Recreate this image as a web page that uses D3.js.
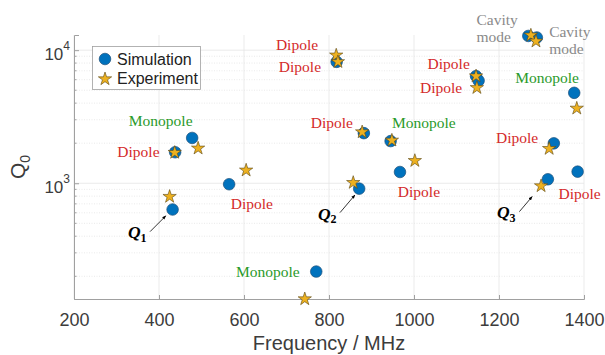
<!DOCTYPE html>
<html><head><meta charset="utf-8">
<script src="https://cdn.jsdelivr.net/npm/d3@7"></script>
<style>body{margin:0;background:#fff}svg{display:block}</style>
</head><body><svg id="c" width="605" height="355"></svg>
<script>
// ---- data ----
const simFreq = [432, 478, 438, 565, 871, 770, 818, 882, 945, 967, 1146, 1152, 1269, 1289, 1377, 1329, 1385, 1315];
const simQ    = [635, 2190, 1710, 983, 911, 217, 8170, 2380, 2075, 1215, 6380, 5900, 12790, 12450, 4780, 1995, 1222, 1071];
const expFreq = [425, 437, 492, 605, 743, 817, 821, 878, 948, 1002, 857, 1146, 1148, 1275, 1287, 1383, 1318, 1299];
const expQ    = [794, 1700, 1832, 1252, 135, 9160, 8170, 2426, 2101, 1477, 1010, 6385, 5216, 12940, 11670, 3654, 1819, 954];
const xTicks = [200, 400, 600, 800, 1000, 1200, 1400];
const yMajor = [1000, 10000];
const labelText = ["Monopole","Dipole","Dipole","Monopole","Dipole","Dipole","Dipole","Monopole","Dipole","Dipole","Dipole","Monopole","Dipole","Dipole","Cavity|mode","Cavity|mode"];
const labelType = ["m","d","d","m","d","d","d","m","d","d","d","m","d","d","c","c"];
const labelFreq = [329, 302, 569, 581, 675, 682, 757, 948, 962, 1032, 1014, 1238, 1193, 1340, 1147, 1318];
const labelQ    = [2692, 1567, 641, 199, 10000, 6804, 2612, 2612, 783, 7190, 4732, 5623, 2017, 759, 15400, 12600];
const qNames = ["1","2","3"];
const qTextFreq = [327, 774, 1195];
const qTextQ = [387, 531, 546];
const qArrowFrom = [[379, 433],[826, 602],[1248, 612]];
const qArrowTo   = [[416, 569],[861, 816],[1278, 794]];

// ---- chart ----
const svg = d3.select("#c");
const L = 74, R = 584, T = 35, B = 299;
const x = d3.scaleLinear().domain([200, 1400]).range([L, R]);
const y = d3.scaleLog().domain([135, 13000]).range([B, T]);

const minor = [];
[100, 1000].forEach(b => { for (let k = 2; k <= 9; k++) { const v = b * k; if (v > 135 && v < 13000) minor.push(v); } });

const grid = svg.append("g");
grid.selectAll(".mg").data(minor).join("line")
  .attr("x1", L).attr("x2", R).attr("y1", d => y(d)).attr("y2", d => y(d))
  .attr("stroke", "#dcdcdc").attr("stroke-width", 0.6).attr("stroke-dasharray", "1,1.5");
grid.selectAll(".Mg").data(yMajor).join("line")
  .attr("x1", L).attr("x2", R).attr("y1", d => y(d)).attr("y2", d => y(d))
  .attr("stroke", "#e6e6e6").attr("stroke-width", 0.8);
grid.selectAll(".xg").data(xTicks).join("line")
  .attr("x1", d => x(d)).attr("x2", d => x(d)).attr("y1", T).attr("y2", B)
  .attr("stroke", "#e6e6e6").attr("stroke-width", 0.8);

// axes
const axCol = "#a0a0a0", txtCol = "#3c3c3c";
const xAxis = svg.append("g").attr("transform", `translate(0,${B})`)
  .call(d3.axisBottom(x).tickValues(xTicks).tickSize(-4).tickPadding(14).tickFormat(d3.format("d")));
xAxis.select(".domain").attr("stroke", axCol);
xAxis.selectAll(".tick line").attr("stroke", axCol);
xAxis.selectAll("text").attr("fill", txtCol).style("font-family", "Arial, 'Liberation Sans', sans-serif").style("font-size", "18px");

const yAxis = svg.append("g").attr("transform", `translate(${L},0)`)
  .call(d3.axisLeft(y).tickValues(yMajor).tickSize(-5).tickFormat(""));
yAxis.select(".domain").attr("stroke", axCol);
yAxis.selectAll(".tick line").attr("stroke", axCol);
svg.append("g").selectAll("line").data(minor).join("line")
  .attr("x1", L).attr("x2", L + 2.5).attr("y1", d => y(d)).attr("y2", d => y(d)).attr("stroke", axCol);
yMajor.forEach(v => {
  const t = svg.append("text").attr("x", L - 4).attr("y", y(v) + 10).attr("text-anchor", "end")
    .attr("fill", txtCol).style("font-family", "Arial, 'Liberation Sans', sans-serif").style("font-size", "17px");
  t.append("tspan").text("10");
  t.append("tspan").attr("dy", -10).style("font-size", "12px").text(String(Math.round(Math.log10(v))));
});

// axis labels
svg.append("text").attr("x", (L + R) / 2).attr("y", 350).attr("text-anchor", "middle")
  .attr("fill", txtCol).style("font-family", "Arial, 'Liberation Sans', sans-serif").style("font-size", "20px")
  .text("Frequency / MHz");
const yl = svg.append("text").attr("transform", `translate(25,${(T + B) / 2}) rotate(-90)`).attr("text-anchor", "middle")
  .attr("fill", txtCol).style("font-family", "Arial, 'Liberation Sans', sans-serif").style("font-size", "21px");
yl.append("tspan").text("Q");
yl.append("tspan").attr("dy", 5).style("font-size", "14px").text("0");

// markers
const circFill = "#0072BD", circStroke = "#1b4f7a";
const starFill = "#EDB120", starStroke = "#5b4712";
const star = d3.symbol().type(d3.symbolStar).size(55);
svg.append("g").selectAll("circle").data(simFreq).join("circle")
  .attr("cx", (d) => x(d)).attr("cy", (d, i) => y(simQ[i])).attr("r", 5.8)
  .attr("fill", circFill).attr("stroke", circStroke).attr("stroke-width", 0.7);
svg.append("g").selectAll("path").data(expFreq).join("path")
  .attr("d", star).attr("transform", (d, i) => `translate(${x(d)},${y(expQ[i])})`)
  .attr("fill", starFill).attr("stroke", starStroke).attr("stroke-width", 0.6);

// mode labels
const typeCol = { d: "#d42a2a", m: "#2a9a2a", c: "#8a8a8a" };
labelText.forEach((s, i) => {
  const t = svg.append("text").attr("x", x(labelFreq[i])).attr("y", y(labelQ[i]))
    .attr("fill", typeCol[labelType[i]]).style("font-family", "'Liberation Serif', 'Times New Roman', serif").style("font-size", "15.5px");
  s.split("|").forEach((line, j) => t.append("tspan").attr("x", x(labelFreq[i])).attr("dy", j ? 16.7 : 0).text(line));
});

// Q annotations
svg.append("defs").append("marker").attr("id", "ah").attr("viewBox", "0 0 10 10").attr("refX", 9).attr("refY", 5)
  .attr("markerWidth", 5).attr("markerHeight", 5).attr("orient", "auto")
  .append("path").attr("d", "M0,1L10,5L0,9z").attr("fill", "#000");
qNames.forEach((n, i) => {
  const t = svg.append("text").attr("x", x(qTextFreq[i])).attr("y", y(qTextQ[i]))
    .attr("fill", "#000").style("font-family", "'Liberation Serif', 'DejaVu Serif', serif")
    .style("font-weight", "bold").style("font-style", "italic").style("font-size", "17.5px");
  t.append("tspan").text("Q");
  t.append("tspan").attr("dy", 3.5).style("font-size", "12px").style("font-style", "normal").text(n);
  svg.append("line").attr("x1", x(qArrowFrom[i][0])).attr("y1", y(qArrowFrom[i][1]))
    .attr("x2", x(qArrowTo[i][0])).attr("y2", y(qArrowTo[i][1]))
    .attr("stroke", "#000").attr("stroke-width", 0.8).attr("marker-end", "url(#ah)");
});

// legend
const lg = svg.append("g");
lg.append("rect").attr("x", 92.5).attr("y", 46.5).attr("width", 108).attr("height", 43)
  .attr("fill", "#fff").attr("stroke", "#a0a0a0").attr("stroke-width", 0.8);
lg.append("circle").attr("cx", 105).attr("cy", 59).attr("r", 5.8).attr("fill", circFill).attr("stroke", circStroke).attr("stroke-width", 0.7);
lg.append("path").attr("d", star).attr("transform", "translate(105,79)").attr("fill", starFill).attr("stroke", starStroke).attr("stroke-width", 0.6);
lg.append("text").attr("x", 117).attr("y", 64.5).attr("fill", "#222").style("font-family", "Arial, 'Liberation Sans', sans-serif").style("font-size", "16px").text("Simulation");
lg.append("text").attr("x", 117).attr("y", 83.5).attr("fill", "#222").style("font-family", "Arial, 'Liberation Sans', sans-serif").style("font-size", "16px").text("Experiment");
</script></body></html>
